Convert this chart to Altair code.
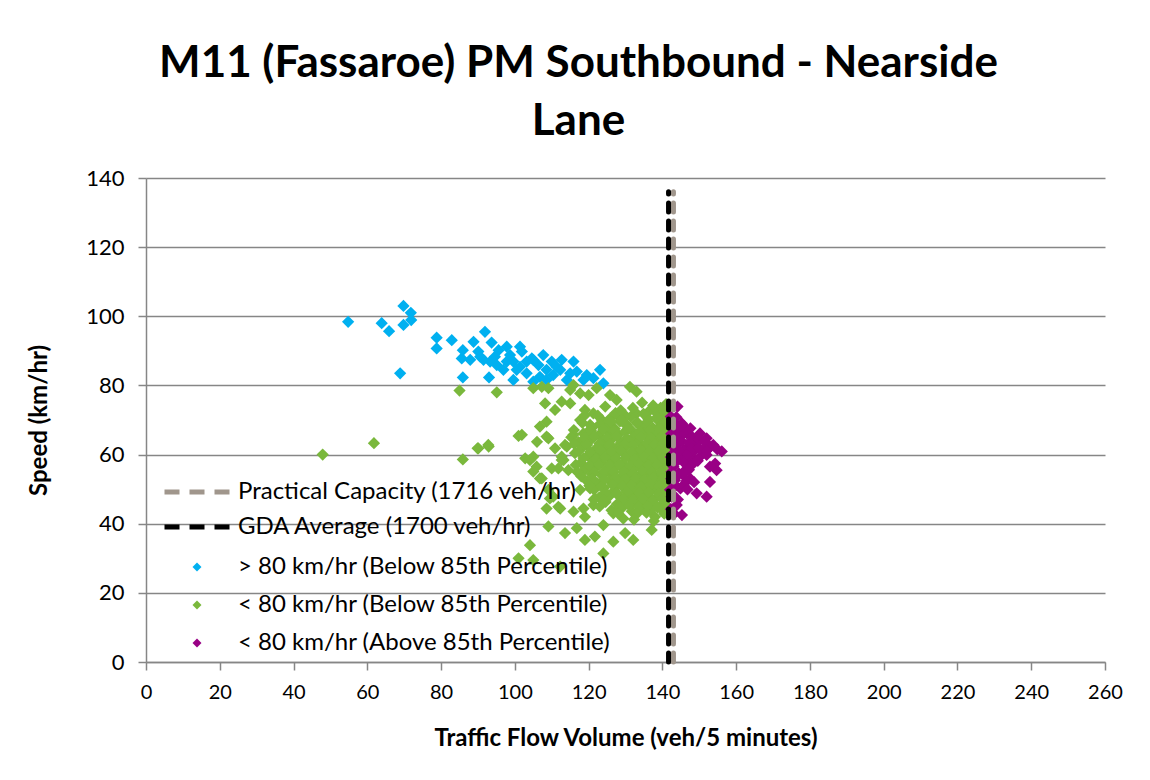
import altair as alt
import pandas as pd

# ---------------- data ----------------
blue_x = [54.8, 63.9, 65.9, 69.8, 71.8, 71.9, 69.8, 68.9, 78.8, 78.8, 82.9, 91.9, 85.9, 93.0,
          88.8, 93.7, 85.9, 85.6, 87.9, 90.1, 91.5, 94.6, 95.1, 97.8, 101.4, 101.9, 97.8, 99.6,
          100.5, 99.6, 103.2, 104.6, 103.2, 105.0, 106.4, 107.7, 108.6, 110.0, 110.4, 112.7,
          112.3, 114.1, 115.9, 116.8, 118.6, 121.3, 123.1, 124.0, 101.4, 93.3, 95.6, 96.9,
          108.6, 115.0, 119.5, 106.8, 111.3, 105.0, 90.6, 98.7]
blue_y = [98.4, 98.0, 95.7, 103.0, 101.0, 98.9, 97.5, 83.5, 93.8, 90.7, 93.1, 95.5, 82.3, 82.3,
          92.6, 92.4, 90.2, 87.8, 87.4, 89.8, 87.4, 88.3, 85.9, 91.2, 91.2, 89.8, 86.9, 86.9,
          84.5, 81.6, 86.9, 87.8, 83.5, 81.1, 85.9, 88.8, 84.5, 86.9, 83.0, 87.4,
          84.5, 81.6, 86.9, 84.0, 81.6, 82.1, 84.5, 80.6, 85.4, 86.9, 90.2, 84.5,
          81.6, 83.5, 83.0, 82.5, 85.4, 87.4, 88.3, 88.8]

green_x = [47.9, 61.8, 85.0, 95.1, 85.9, 89.9, 92.9, 101.0, 105.0, 107.3, 109.1, 108.2, 110.9,
           112.7, 115.0, 115.9, 117.7, 120.0, 122.2, 115.0, 119.0, 121.3, 124.5, 125.8, 127.6,
           131.2, 133.0, 136.7, 139.8, 108.6, 106.8, 101.9, 106.0, 109.1, 90.1, 92.8, 110.9,
           113.6, 115.9, 117.7, 119.0, 120.4, 123.6, 125.8, 128.5, 130.3, 133.0, 118.6, 121.3,
           105.0, 112.7, 102.8,
           104.1, 105.9, 110.0, 112.7, 114.5, 106.8, 109.5, 111.8, 108.6, 115.9, 119.0, 118.6,
           121.3, 124.0, 109.1, 113.6, 116.8, 119.0, 121.7, 126.7, 129.9, 132.1, 137.1, 104.1,
           124.0, 101.0, 105.0, 112.3, 138.0, 134.8, 126.7, 129.4, 117.7, 121.7, 120.4,
           108.6, 105.0, 107.3, 109.1, 111.8, 113.2, 114.1, 110.4, 112.3,
           125.8, 128.5, 131.4, 133.0, 136.2, 138.9, 140.8, 139.5, 141.0,
           121.0, 124.3, 127.1, 129.8, 131.5, 134.6, 137.4, 139.6, 141.2,
           119.5, 122.8, 125.4, 128.0, 129.9, 132.7, 135.1, 137.8, 140.3, 141.4,
           117.2, 120.6, 123.9, 126.3, 128.8, 131.1, 133.6, 136.4, 138.7, 140.9,
           118.4, 121.9, 124.7, 127.5, 130.2, 132.4, 134.9, 137.0, 139.3, 141.3,
           116.3, 119.8, 122.6, 125.1, 127.9, 130.8, 133.2, 135.7, 138.1, 140.5,
           117.9, 121.2, 123.5, 126.6, 129.3, 131.9, 134.4, 136.9, 139.0, 141.1,
           119.1, 122.1, 124.9, 127.3, 130.5, 132.8, 135.3, 137.6, 140.2,
           118.0, 120.8, 123.7, 126.0, 128.7, 131.4, 133.9, 136.5, 138.8, 141.0,
           119.6, 122.4, 125.6, 128.2, 130.9, 133.5, 135.9, 138.4, 140.6,
           121.5, 124.2, 127.0, 129.6, 132.2, 134.7, 137.2, 139.8,
           122.9, 125.9, 128.4, 131.0, 133.3, 136.0, 138.5, 141.2,
           124.6, 127.7, 130.1, 132.9, 135.4, 137.9, 140.4,
           126.2, 129.0, 131.7, 134.1, 136.8, 139.5,
           122.5, 127.3, 130.0, 134.9, 137.9, 140.2, 134.5, 137.5, 132.0, 128.7,
           118.3, 123.0, 126.1, 128.9, 133.4, 136.0, 138.5, 140.9,
           116.0, 120.7, 124.0, 126.9, 130.7, 133.9, 136.6, 139.2,
           115.3, 118.9, 121.5, 125.0, 127.6, 130.3, 134.2, 137.0, 139.9, 141.5,
           116.1, 119.6, 122.9, 125.8, 129.7, 132.0, 135.8, 138.0, 140.1,
           117.3, 120.4, 123.3, 126.2, 128.9, 131.7, 134.1, 136.5, 139.0, 141.4,
           118.6, 122.0, 124.4, 127.4, 130.0, 132.6, 135.0, 137.4, 140.0,
           116.5, 120.2, 122.8, 125.7, 128.4, 131.2, 133.7, 136.2, 138.5, 141.5,
           116.9, 121.5, 124.2, 126.8, 129.5, 132.0, 134.6, 137.1, 139.6, 141.4,
           121.0, 124.3, 127.3, 129.9, 132.6, 135.1, 137.5, 140.0,
           120.2, 123.4, 126.5, 129.2, 131.6, 134.2, 136.8, 139.1, 141.3,
           124.6, 127.6, 130.3, 133.8, 136.4, 139.0, 141.0,
           121.4, 124.1, 129.4, 132.0, 134.7, 137.3, 140.0,
           123.0, 128.3, 131.1, 133.6, 136.0, 138.7, 141.1,
           128.0, 133.0, 135.7, 140.5, 132.3, 137.7]
green_y = [60.0, 63.3, 78.5, 78.0, 58.6, 61.8, 62.3, 65.4, 79.2, 79.6, 79.2, 74.8, 72.9,
           75.3, 78.7, 80.1, 77.7, 77.2, 79.2, 74.8, 72.9, 71.9, 73.9, 77.2, 75.8,
           79.6, 78.2, 72.9, 71.4, 69.5, 68.1, 65.7, 63.7, 64.7, 61.8, 62.8, 61.8,
           62.8, 65.7, 70.0, 71.4, 68.6, 70.0, 68.1, 70.5, 68.6, 71.9, 66.1, 65.2,
           59.4, 59.4, 58.9,
           58.4, 56.5, 56.0, 58.4, 55.5, 53.1, 47.3, 44.9, 44.4, 43.5, 42.0, 44.4,
           45.4, 39.6, 39.2, 37.3, 38.7, 35.3, 36.3, 34.8, 37.3, 35.3, 38.2, 33.8,
           31.4, 30.0, 29.5, 27.6, 42.0, 44.4, 43.0, 41.5, 49.8, 47.3, 50.2,
           65.2, 55.1, 53.1, 49.8, 56.0, 58.4, 62.3, 47.8, 44.4,
           70.4, 69.6, 70.9, 69.2, 70.3, 69.8, 71.6, 73.5, 74.6,
           67.8, 68.4, 67.5, 68.9, 67.2, 68.1, 67.7, 68.5, 67.4,
           66.3, 65.6, 66.5, 65.8, 66.7, 65.4, 66.2, 65.9, 66.4, 65.1,
           63.6, 64.3, 63.8, 64.5, 63.4, 64.1, 63.7, 64.6, 63.5, 64.0,
           62.2, 61.6, 62.4, 61.8, 62.5, 61.5, 62.3, 61.7, 62.6, 61.9,
           60.4, 59.7, 60.2, 59.5, 60.6, 59.8, 60.5, 59.6, 60.3, 59.9,
           57.6, 58.3, 57.8, 58.5, 57.4, 58.2, 57.7, 58.4, 57.5, 58.1,
           55.8, 56.4, 55.5, 56.2, 55.7, 56.5, 55.6, 56.3, 55.9,
           53.7, 54.4, 53.9, 54.6, 53.5, 54.2, 53.8, 54.5, 53.6, 54.1,
           52.3, 51.7, 52.5, 51.6, 52.2, 51.8, 52.6, 51.9, 52.4,
           49.8, 50.4, 49.6, 50.3, 49.7, 50.5, 49.9, 50.2,
           47.6, 48.3, 47.8, 48.4, 47.5, 48.2, 47.7, 48.0,
           46.3, 45.7, 46.4, 45.8, 46.5, 45.6, 46.2,
           43.9, 44.5, 43.6, 44.3, 43.8, 44.4,
           71.3, 72.0, 71.2, 71.8, 72.6, 73.0, 75.0, 74.2, 73.5, 72.8,
           69.2, 68.8, 69.4, 69.9, 69.1, 69.5, 70.7, 69.3,
           67.1, 66.8, 67.2, 66.9, 67.4, 66.7, 67.0, 67.3,
           65.0, 64.8, 65.2, 64.9, 65.3, 64.7, 65.1, 64.8, 65.2, 63.0,
           63.1, 62.8, 63.2, 62.9, 63.0, 62.7, 63.3, 62.9, 63.1,
           61.0, 60.8, 61.2, 60.9, 61.1, 60.7, 61.3, 60.9, 61.1, 60.6,
           59.0, 58.8, 59.2, 58.9, 59.1, 58.7, 59.3, 58.9, 59.0,
           57.0, 56.8, 57.2, 56.9, 57.1, 56.7, 57.3, 56.9, 57.1, 56.6,
           55.0, 54.8, 55.2, 54.9, 55.1, 54.7, 55.3, 54.9, 55.1, 52.9,
           53.0, 52.8, 53.2, 52.9, 53.1, 52.7, 53.3, 52.9,
           51.0, 50.8, 51.2, 50.9, 51.1, 50.7, 51.3, 50.9, 50.6,
           49.0, 48.8, 49.2, 48.9, 49.1, 48.7, 49.3,
           47.0, 46.8, 47.2, 46.9, 47.1, 46.7, 47.3,
           45.0, 44.8, 45.2, 44.9, 45.1, 44.7, 45.3,
           43.0, 42.8, 43.2, 42.9, 41.2, 40.8]

purple_x = [144.1, 143.0, 145.3, 143.4, 146.6, 150.2, 152.0, 148.9, 156.1, 153.8, 144.4, 146.6,
            151.1, 143.0, 145.3, 148.4, 154.3, 154.7, 143.0, 146.2, 147.5, 152.9, 143.4, 142.1,
            144.9, 149.3, 152.0, 143.9, 145.3, 142.5, 146.2, 148.0, 149.3, 144.9, 143.0, 145.8,
            148.4, 150.2, 152.0, 143.9, 146.6, 144.4, 145.8, 143.0, 145.3, 143.4, 147.0, 152.9,
            142.3, 143.8, 145.8, 147.6, 142.4, 144.2, 147.3, 149.8, 151.4, 153.0, 154.9, 142.6,
            144.6, 146.8, 148.0, 149.9, 151.9, 142.3, 144.0, 145.9, 148.0, 149.6, 142.5, 144.0,
            145.5, 147.2, 142.4, 143.6, 146.5, 148.6, 142.7, 144.2, 146.8, 142.3, 143.2]
purple_y = [73.9, 69.5, 69.0, 66.6, 66.1, 66.1, 64.7, 64.2, 60.9, 62.8, 63.3, 61.8,
            61.3, 60.4, 59.4, 58.9, 57.4, 55.5, 56.5, 55.5, 53.1, 52.1, 52.6, 49.8,
            50.2, 48.8, 47.8, 45.4, 42.5, 47.8, 67.1, 65.2, 63.3, 65.2, 64.7, 61.3,
            60.9, 59.4, 59.9, 58.0, 57.4, 54.6, 51.2, 68.1, 63.8, 61.8, 59.4, 56.5,
            71.0, 70.8, 68.2, 67.6, 66.0, 67.5, 63.5, 64.6, 63.8, 62.2, 61.5, 62.8,
            61.0, 60.2, 61.8, 61.9, 61.0, 59.3, 58.3, 57.6, 57.0, 58.2, 55.0, 53.8,
            54.2, 55.6, 53.0, 51.0, 52.3, 52.0, 48.6, 47.0, 49.9, 44.2, 42.9]

series_names = ["> 80 km/hr (Below 85th Percentile)",
                "< 80 km/hr (Below 85th Percentile)",
                "< 80 km/hr (Above 85th Percentile)"]
series_colors = ["#00B0F0", "#7AB83C", "#990085"]

line_names = ["Practical Capacity (1716 veh/hr)", "GDA Average (1700 veh/hr)"]
line_x = [143.0, 141.67]
line_y0 = [0, 0]
line_y1 = [136, 136]
line_colors = ["#A0968C", "#000000"]

x_ticks = list(range(0, 261, 20))
y_ticks = list(range(0, 141, 20))

# ---------------- tables ----------------
rows = []
for name, xs, ys in zip(series_names, [blue_x, green_x, purple_x], [blue_y, green_y, purple_y]):
    for a, b in zip(xs, ys):
        rows.append({"flow": a, "speed": b, "series": name})
pts = pd.DataFrame(rows)
lines = pd.DataFrame({"flow": line_x, "y0": line_y0, "y1": line_y1, "line": line_names})

FONT = "Lato"

xscale = alt.Scale(domain=[0, 260], nice=False, zero=False)
yscale = alt.Scale(domain=[0, 140], nice=False)

xaxis = alt.Axis(values=x_ticks, title="Traffic Flow Volume (veh/5 minutes)", grid=False,
                 labelFontSize=20, titleFontSize=24, titleFontWeight="bold", labelFlush=False,
                 labelPadding=12, titlePadding=24, tickSize=8, labelFont=FONT, titleFont=FONT)
yaxis = alt.Axis(values=y_ticks, title="Speed (km/hr)", grid=True, labelFlush=False,
                 labelFontSize=22, titleFontSize=24, titleFontWeight="bold",
                 labelPadding=14, titlePadding=34, tickSize=8, labelFont=FONT, titleFont=FONT)

points = alt.Chart(pts).mark_point(shape="diamond", filled=True, size=150, opacity=1).encode(
    x=alt.X("flow:Q", scale=xscale, axis=xaxis),
    y=alt.Y("speed:Q", scale=yscale, axis=yaxis),
    color=alt.Color("series:N", sort=series_names,
                    scale=alt.Scale(domain=series_names, range=series_colors),
                    legend=alt.Legend(title=None, orient="none", legendX=39, legendY=377,
                                      symbolType="diamond", symbolSize=80, symbolStrokeWidth=0,
                                      labelFontSize=24, labelFont=FONT, labelColor="#000",
                                      labelOffset=29, rowPadding=14, padding=0,
                                      labelLimit=600)),
    order=alt.Order("order:Q")
).transform_calculate(order="indexof(%s, datum.series)" % str(series_names))

rules = alt.Chart(lines).mark_rule(strokeWidth=5, strokeDash=[9, 9], strokeCap="round").encode(
    x=alt.X("flow:Q", scale=xscale),
    y=alt.Y("y0:Q", scale=yscale),
    y2="y1:Q",
    stroke=alt.Stroke("line:N", sort=line_names,
                      scale=alt.Scale(domain=line_names, range=line_colors),
                      legend=alt.Legend(title=None, orient="none", legendX=14, legendY=302,
                                        symbolType="M-6.5,0H6.5", symbolSize=100,
                                        symbolStrokeWidth=5, symbolDash=[15, 10],
                                        symbolOffset=25,
                                        labelFontSize=24, labelFont=FONT, labelColor="#000",
                                        labelOffset=29, rowPadding=11, padding=0,
                                        labelLimit=600))
)

chart = alt.layer(points, rules).properties(
    width=959, height=484,
    background="white",
    title=alt.TitleParams(["M11 (Fassaroe) PM Southbound - Nearside", "Lane"],
                          fontSize=44, font=FONT, fontWeight="bold", color="#000",
                          anchor="middle", dx=-47, offset=23, lineHeight=58),
    padding={"left": 138, "top": 170, "right": 37, "bottom": 110},
    autosize=alt.AutoSizeParams(type="none")
).configure_view(stroke=None).configure_axis(
    domainColor="#868686", tickColor="#868686", gridColor="#868686",
    domainWidth=1.5, tickWidth=1.5, gridWidth=1.5,
    labelColor="#000", titleColor="#000"
)

chart.save("out.html", embed_options={"renderer": "svg", "actions": False})
